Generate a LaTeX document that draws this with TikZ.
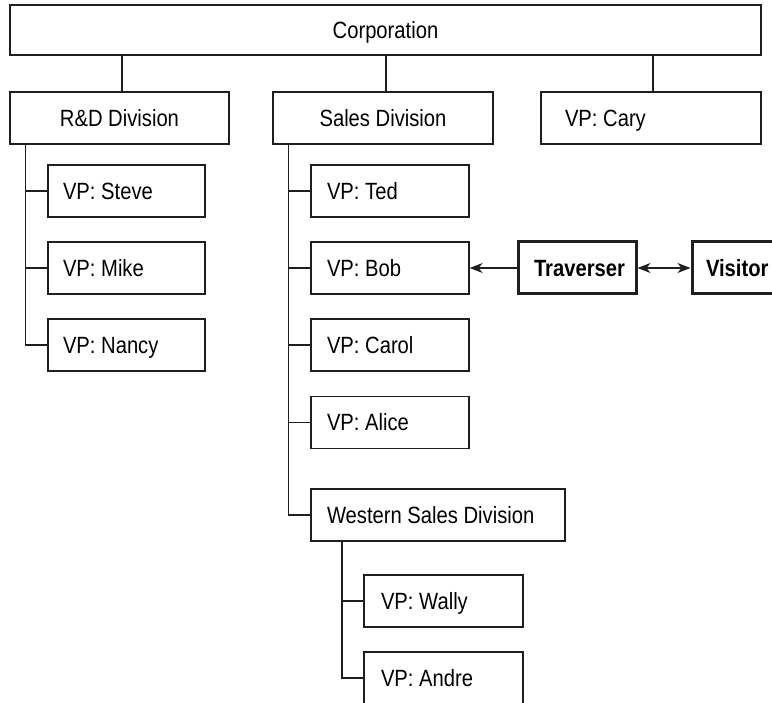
\documentclass[tikz,border=0pt]{standalone}
\usepackage{fontspec}
\setmainfont[FakeStretch=0.86]{Liberation Sans}
\usetikzlibrary{arrows.meta}
\newcommand\lftbox[2]{\makebox[#1][l]{#2}}
\begin{document}
\begin{tikzpicture}[x=1pt,y=-1pt,
  line width=1.3pt,
  box/.style={draw=black!88, line width=1.3pt, minimum height=52pt, inner ysep=0pt, inner xsep=0pt,
    text height=17pt, text depth=0pt, font=\fontsize{23.5}{28}\selectfont},
  cbox/.style={box, minimum width=#1},
  lbox/.style={box, inner xsep=#1},
  thick box/.style={box, line width=3pt, font=\fontsize{23.5}{28}\selectfont\bfseries},
  link/.style={draw=black!88, line width=1.3pt},
  arr/.style={link, -{Stealth[length=13pt,width=10pt,inset=4pt]}},
  darr/.style={link, {Stealth[length=13pt,width=10pt,inset=4pt]}-{Stealth[length=13pt,width=10pt,inset=4pt]}}
]
\clip (0,0) rectangle (772,703);
\fill[white] (0,0) rectangle (772,703);

\node[cbox=751pt, minimum height=50pt] (corp) at (385.5,30) {Corporation};
\node[cbox=219pt] (rd) at (119.5,118) {R\&D Division};
\node[cbox=220pt] (sales) at (383,118) {Sales Division};
\node[lbox=24pt] (cary) at (651,118) {\lftbox{172pt}{VP: Cary}};

\node[lbox=15pt] (steve) at (126.5,191) {\lftbox{127pt}{VP: Steve}};
\node[lbox=15pt] (mike) at (126.5,268) {\lftbox{127pt}{VP: Mike}};
\node[lbox=15pt] (nancy) at (126.5,345) {\lftbox{127pt}{VP: Nancy}};

\node[lbox=16pt] (ted) at (390,191) {\lftbox{126pt}{VP: Ted}};
\node[lbox=16pt] (bob) at (390,268) {\lftbox{126pt}{VP: Bob}};
\node[lbox=16pt] (carol) at (390,345) {\lftbox{126pt}{VP: Carol}};
\node[lbox=16pt] (alice) at (390,422.5) {\lftbox{126pt}{VP: Alice}};
\node[lbox=16pt] (western) at (438,515) {\lftbox{222pt}{Western Sales Division}};

\node[lbox=17pt] (wally) at (443.5,601) {\lftbox{125pt}{VP: Wally}};
\node[lbox=17pt] (andre) at (443.5,678) {\lftbox{125pt}{VP: Andre}};

\node[thick box, inner xsep=16pt] (trav) at (577,268) {\lftbox{86pt}{Traverser}};
\node[thick box, inner xsep=14pt] (vis) at (752,268) {\lftbox{92pt}{Visitor}};

% top level connectors
\draw[link] (corp.south -| 122,0) -- (rd.north -| 122,0);
\draw[link] (corp.south -| 386,0) -- (sales.north -| 386,0);
\draw[link] (corp.south -| 653,0) -- (cary.north -| 653,0);

% R&D branch
\coordinate (rdt) at ([xshift=16pt]rd.south west);
\draw[link] (rdt) |- (nancy.west);
\draw[link] (steve.west) -- (steve.west -| rdt);
\draw[link] (mike.west) -- (mike.west -| rdt);

% Sales branch
\coordinate (st) at ([xshift=16pt]sales.south west);
\draw[link] (st) |- (western.west);
\draw[link] (ted.west) -- (ted.west -| st);
\draw[link] (bob.west) -- (bob.west -| st);
\draw[link] (carol.west) -- (carol.west -| st);
\draw[link] (alice.west) -- (alice.west -| st);

% Western branch
\coordinate (wt) at ([xshift=31.5pt]western.south west);
\draw[link] (wt) |- (andre.west);
\draw[link] (wally.west) -- (wally.west -| wt);

% arrows
\draw[arr] (trav.west) -- (bob.east);
\draw[darr] (trav.east) -- (vis.west);
\end{tikzpicture}
\end{document}
